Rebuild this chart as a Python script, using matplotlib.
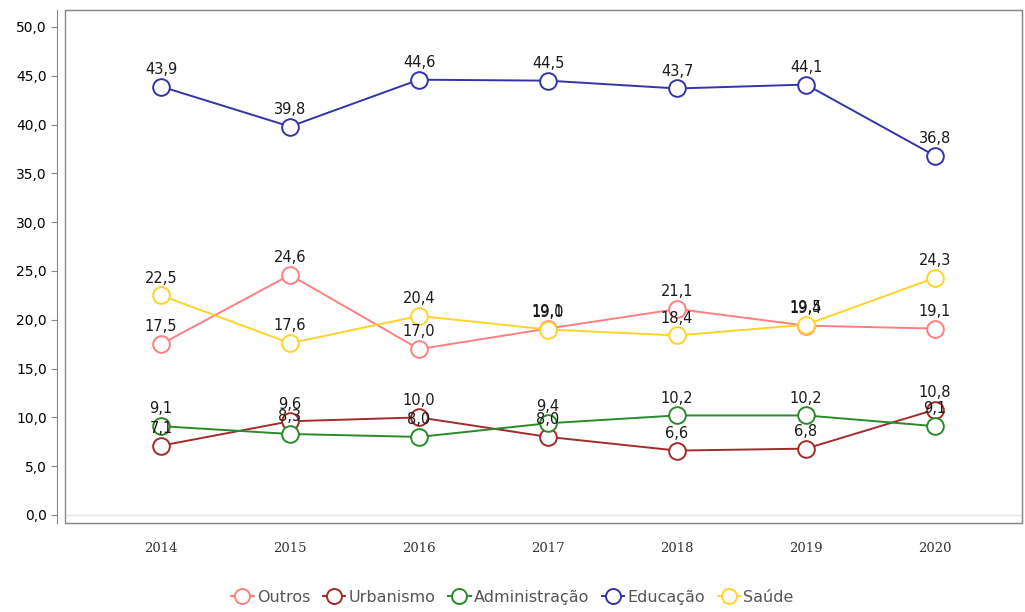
import matplotlib
matplotlib.use("Agg")
import matplotlib.pyplot as plt
from matplotlib.patches import Rectangle

years = ['2014', '2015', '2016', '2017', '2018', '2019', '2020']
outros = [17.5, 24.6, 17.0, 19.1, 21.1, 19.4, 19.1]
urbanismo = [7.1, 9.6, 10.0, 8.0, 6.6, 6.8, 10.8]
administracao = [9.1, 8.3, 8.0, 9.4, 10.2, 10.2, 9.1]
educacao = [43.9, 39.8, 44.6, 44.5, 43.7, 44.1, 36.8]
saude = [22.5, 17.6, 20.4, 19.0, 18.4, 19.5, 24.3]

series = [
    ('Outros', outros, '#ff7f7f'),
    ('Urbanismo', urbanismo, '#a52a2a'),
    ('Administração', administracao, '#2a8a2a'),
    ('Educação', educacao, '#3333aa'),
    ('Saúde', saude, '#ffd42a'),
]

fig = plt.figure(figsize=(10.25, 6.12), dpi=100)
ax = fig.add_axes([65 / 1025, 89 / 612, 957 / 1025, 513 / 612])

x = list(range(len(years)))
for name, vals, color in series:
    ax.plot(x, vals, color=color, lw=1.4, marker='o', markersize=12,
            markerfacecolor='white', markeredgecolor=color, markeredgewidth=1.4,
            label=name)
    for xi, v in zip(x, vals):
        ax.annotate(f'{v:.1f}'.replace('.', ','), (xi, v), xytext=(0, 7),
                    textcoords='offset points', ha='center', va='bottom',
                    fontsize=10.5, color='#1a1a1a', family='DejaVu Sans')

ax.axhline(0, color='#e6e6e6', lw=1, zorder=0)

ax.set_xlim(-0.744, 6.674)
ax.set_ylim(-0.82, 51.74)
ax.set_yticks([i * 5 for i in range(11)])
ax.set_yticklabels([f'{i * 5:.1f}'.replace('.', ',') for i in range(11)],
                   fontsize=9, color='#555555')
ax.set_xticks(x)
ax.set_xticklabels(years, fontsize=9.5, family='DejaVu Serif', color='#333333')
ax.tick_params(axis='x', length=0, pad=14)
ax.tick_params(axis='y', length=4, color='#888888', pad=3)

for s in ['top', 'right', 'bottom']:
    ax.spines[s].set_color('#888888')
ax.spines['left'].set_position(('outward', 6))
ax.spines['left'].set_color('#888888')
ax.add_patch(Rectangle((0, 0), 1, 1, transform=ax.transAxes, fill=False,
                       edgecolor='#888888', lw=1, clip_on=False))

fig.legend(loc='lower center', bbox_to_anchor=(0.5, -0.012), ncol=5, frameon=False,
           fontsize=11.5, handlelength=1.4, handletextpad=0.2, columnspacing=0.8,
           labelcolor='#555555', markerscale=0.9)

fig.savefig('out.png', dpi=100)
